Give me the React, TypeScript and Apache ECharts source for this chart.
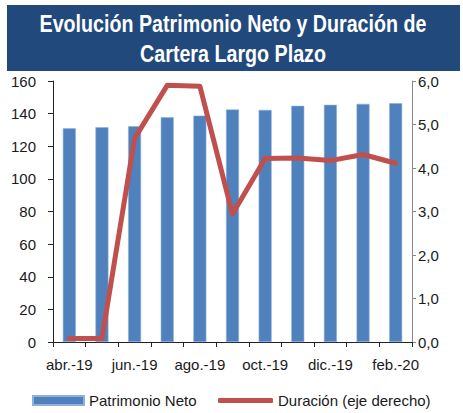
import React, { useEffect, useRef } from "react";
import * as echarts from "echarts";

const categories = ["abr.-19", "may.-19", "jun.-19", "jul.-19", "ago.-19", "sep.-19", "oct.-19", "nov.-19", "dic.-19", "ene.-20", "feb.-20"];
const patrimonioNeto = [131, 131.7, 132.3, 137.8, 138.8, 142.5, 142.3, 144.8, 145.4, 146, 146.4];
const duracion = [0.08, 0.08, 4.68, 5.9, 5.88, 2.94, 4.22, 4.23, 4.17, 4.31, 4.11];
const titleLines = ["Evolución Patrimonio Neto y Duración de", "Cartera Largo Plazo"];

const FONT = '"Liberation Sans", Arial, sans-serif';

export default function App() {
  const ref = useRef<HTMLDivElement>(null);
  useEffect(() => {
    if (!ref.current) return;
    const chart = echarts.init(ref.current, null, { renderer: "svg" });
    chart.setOption({
      animation: false,
      backgroundColor: "#ffffff",
      textStyle: { fontFamily: FONT },
      graphic: [
        { type: "rect", shape: { x: 7, y: 5, width: 453, height: 66 }, style: { fill: "#21497C" }, silent: true },
        {
          type: "text", x: 233, y: 24, scaleX: 0.82,
          style: { text: titleLines[0], fill: "#ffffff", font: `bold 24px ${FONT}`, align: "center", verticalAlign: "middle" },
        },
        {
          type: "text", x: 233, y: 53.5, scaleX: 0.82,
          style: { text: titleLines[1], fill: "#ffffff", font: `bold 24px ${FONT}`, align: "center", verticalAlign: "middle" },
        },
      ],
      grid: { left: 53, right: 51, top: 81, bottom: 71 },
      legend: [
        {
          top: 393,
          left: 32,
          padding: 0,
          itemWidth: 51,
          itemHeight: 9,
          icon: "rect",
          textStyle: { fontFamily: FONT, fontSize: 15, color: "#1a1a1a" },
          data: ["Patrimonio Neto"],
        },
        {
          top: 393,
          left: 218,
          padding: 0,
          itemWidth: 55,
          itemHeight: 5,
          icon: "roundRect",
          textStyle: { fontFamily: FONT, fontSize: 15, color: "#1a1a1a" },
          data: ["Duración (eje derecho)"],
        },
      ],
      xAxis: {
        type: "category",
        data: categories,
        boundaryGap: true,
        axisLine: { lineStyle: { color: "#222", width: 1 } },
        axisTick: { show: true, alignWithLabel: false, length: 5, lineStyle: { color: "#222" }, interval: 0 },
        axisLabel: { interval: 1, fontFamily: FONT, fontSize: 15, color: "#1a1a1a", margin: 15 },
      },
      yAxis: [
        {
          type: "value", min: 0, max: 160, interval: 20,
          axisLine: { show: true, lineStyle: { color: "#222" } },
          axisTick: { show: true, length: 5, lineStyle: { color: "#222" } },
          axisLabel: { fontFamily: FONT, fontSize: 15, color: "#1a1a1a", margin: 17 },
          splitLine: { show: false },
        },
        {
          type: "value", min: 0, max: 6, interval: 1, position: "right",
          axisLine: { show: true, lineStyle: { color: "#888" } },
          axisTick: { show: true, length: 4, lineStyle: { color: "#888" } },
          axisLabel: {
            fontFamily: FONT, fontSize: 15, color: "#1a1a1a", margin: 6,
            formatter: (v: number) => v.toFixed(1).replace(".", ","),
          },
          splitLine: { show: false },
        },
      ],
      series: [
        {
          name: "Patrimonio Neto",
          type: "bar",
          data: patrimonioNeto,
          barWidth: 13,
          itemStyle: { color: "#4F81BD", borderColor: "#8FB0DA", borderWidth: 0.6 },
        },
        {
          name: "Duración (eje derecho)",
          type: "line",
          yAxisIndex: 1,
          data: duracion,
          symbol: "none",
          showSymbol: false,
          lineStyle: { color: "#C0504D", width: 5, cap: "round", join: "round" },
          itemStyle: { color: "#C0504D" },
        },
      ],
    });
    return () => chart.dispose();
  }, []);
  return <div ref={ref} style={{ position: "fixed", left: 0, top: 0, width: 463, height: 413 }} />;
}
